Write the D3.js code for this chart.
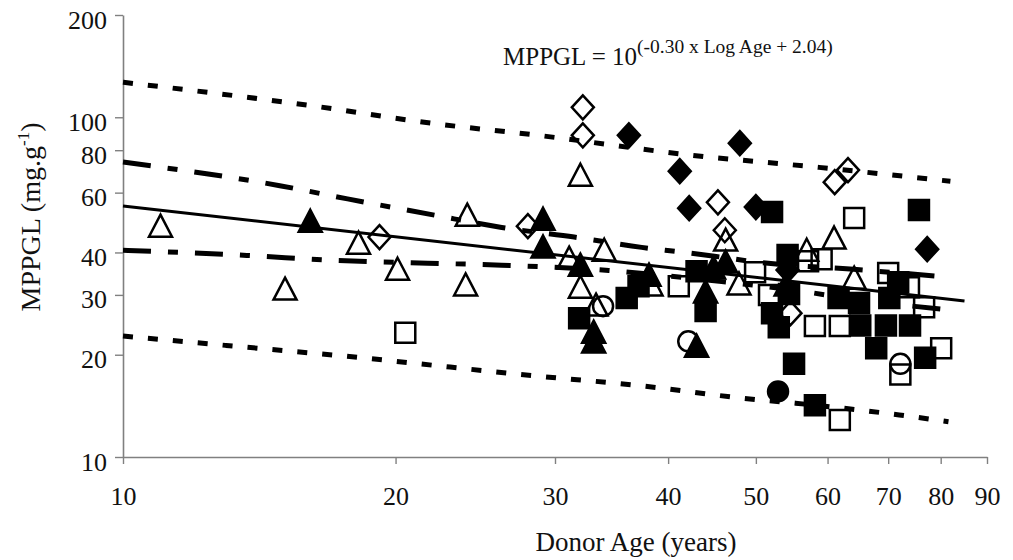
<!DOCTYPE html>
<html>
<head>
<meta charset="utf-8">
<script src="https://cdn.jsdelivr.net/npm/d3@7"></script>
<style>
  body { margin: 0; background: #fff; }
  svg text { font-family: "Liberation Serif", "Times New Roman", serif; fill: #111; }
</style>
</head>
<body>
<svg id="chart"></svg>
<script>
// [age, MPPGL] pairs
const openTriangles = [[11.0,47.8],[15.1,31.2],[18.2,42.6],[20.1,35.7],[24.0,51.5],[23.9,32.1],[32.0,67.5],[32.0,31.6],[31.1,38.5],[34.0,40.6],[47.9,32.3],[46.3,43.5],[56.9,40.6],[61.0,44.1],[64.2,33.6],[38.3,32.1],[33.3,28.0]]
const filledTriangles = [[16.1,49.4],[29.1,50.1],[29.1,41.5],[32.0,36.7],[33.1,23.3],[33.1,21.8],[43.0,21.2],[46.3,37.5],[44.9,36.0],[44.0,30.6],[38.1,34.3],[54.0,32.1]]
const openDiamonds = [[19.2,44.4],[28.0,47.8],[32.2,107.0],[32.2,88.5],[45.4,56.2],[46.2,46.5],[61.1,64.4],[63.2,69.9],[54.6,26.5]]
const filledDiamonds = [[36.2,88.5],[48.0,83.9],[41.2,69.4],[42.2,54.0],[50.0,54.4],[77.3,40.9],[54.2,35.5]]
const openSquares = [[20.5,23.2],[41.1,31.8],[49.9,35.0],[64.2,50.5],[59.1,38.2],[57.1,37.7],[58.1,24.3],[61.9,24.3],[70.0,34.8],[73.8,31.6],[80.1,20.9],[72.2,17.5],[61.9,12.85],[51.7,30.0],[76.7,27.6]]
const filledSquares = [[31.9,25.6],[36.0,29.4],[37.1,31.8],[43.0,35.2],[44.0,26.9],[52.1,52.6],[54.2,39.3],[54.4,30.2],[52.1,26.5],[53.0,24.1],[55.1,18.8],[58.1,14.2],[61.7,29.4],[65.0,28.4],[65.2,24.4],[67.9,20.9],[69.6,24.4],[71.8,32.7],[70.2,29.4],[74.0,24.4],[76.9,19.6],[75.7,53.3]]
const openCircles = [[33.9,27.8],[42.1,21.9],[72.2,18.8]]
const filledCircles = [[52.9,15.6]]

// fitted line and bands
const regression = [[10,54.8],[85,28.8]]
const upperConf = [[10,73.8],[14.9,62.9],[17.7,57.5],[22,51.6],[26.2,47.4],[31.5,44.4],[37.4,41.4],[41.4,40.1],[45,39.0],[50,37.5],[65.7,35.5],[82,33.8]]
const lowerConf = [[10,40.6],[13.7,39.2],[17.1,37.9],[21.7,37.2],[26.2,36.7],[34.4,35.4],[45,33.0],[55,31.0],[65,29.0],[82,27.1]]
const upperPred = [[10,126.8],[16,108.5],[22,95.9],[28.7,88.5],[42.5,77.3],[58.7,71.2],[82,64.8]]
const lowerPred = [[10,22.7],[13,21.3],[17.1,19.95],[28.7,17.3],[37.4,16.2],[48.3,14.9],[55.3,14.4],[72,13.3],[81.6,12.7]]

const xTicks = [10,20,30,40,50,60,70,80,90]
const yTicks = [10,20,30,40,60,80,100,200]

const width = 1013, height = 560
const svg = d3.select('#chart').attr('width', width).attr('height', height)

const x = d3.scaleLog().domain([10,90]).range([123,987])
const y = d3.scaleLog().domain([10,200]).range([457,15])

// axes
const xAxis = svg.append('g')
  .attr('transform', 'translate(0,457)')
  .call(d3.axisBottom(x).tickValues(xTicks).tickFormat(d3.format('d'))
    .tickSize(7).tickSizeOuter(0).tickPadding(23))
xAxis.selectAll('text').attr('font-size', 26).style('font-family', '"Liberation Serif", serif')

const yAxis = svg.append('g')
  .attr('transform', 'translate(123,0)')
  .call(d3.axisLeft(y).tickValues(yTicks).tickFormat(d3.format('d'))
    .tickSize(8).tickSizeOuter(0).tickPadding(8))
yAxis.selectAll('text').attr('font-size', 26).attr('dy', '0.5em').style('font-family', '"Liberation Serif", serif')

svg.selectAll('.domain').attr('stroke', '#808080').attr('stroke-width', 1.6)
svg.selectAll('.tick line').attr('stroke', '#808080').attr('stroke-width', 1.4)

// markers
const shapes = {
  triangle: 'M0,-11.5L11.5,10.5L-11.5,10.5Z',
  diamond: 'M0,-12L11,0L0,12L-11,0Z',
  square: 'M-10,-10H10V10H-10Z',
  circle: 'M10,0A10,10 0 1 1 -10,0A10,10 0 1 1 10,0Z'
}
const series = [
  { data: openTriangles, shape: 'triangle', filled: false },
  { data: openDiamonds, shape: 'diamond', filled: false },
  { data: openSquares, shape: 'square', filled: false },
  { data: openCircles, shape: 'circle', filled: false },
  { data: filledTriangles, shape: 'triangle', filled: true },
  { data: filledDiamonds, shape: 'diamond', filled: true },
  { data: filledSquares, shape: 'square', filled: true },
  { data: filledCircles, shape: 'circle', filled: true }
]
series.forEach(s => {
  svg.append('g').selectAll('path')
    .data(s.data)
    .enter()
    .append('path')
    .attr('transform', d => `translate(${x(d[0])},${y(d[1])})`)
    .attr('d', shapes[s.shape])
    .attr('fill', s.filled ? '#000' : 'none')
    .attr('stroke', '#000')
    .attr('stroke-width', 2.5)
    .attr('stroke-linejoin', 'miter')
})

// lines
const line = d3.line().x(d => x(d[0])).y(d => y(d[1])).curve(d3.curveMonotoneX)
const lines = [
  { data: upperPred, dash: '10,15', w: 5 },
  { data: lowerPred, dash: '10,15', w: 5 },
  { data: upperConf, dash: '28,17,10,17', w: 5 },
  { data: lowerConf, dash: '28,17,10,17', w: 5 },
  { data: regression, dash: null, w: 3 }
]
lines.forEach(l => {
  svg.append('path')
    .datum(l.data)
    .attr('d', line)
    .attr('fill', 'none')
    .attr('stroke', '#000')
    .attr('stroke-width', l.w)
    .attr('stroke-dasharray', l.dash)
})

// titles
svg.append('text')
  .attr('x', 636).attr('y', 551)
  .attr('text-anchor', 'middle')
  .attr('font-size', 27)
  .text('Donor Age (years)')

const yt = svg.append('text')
  .attr('transform', 'translate(40,217) rotate(-90)')
  .attr('text-anchor', 'middle')
  .attr('font-size', 28)
yt.append('tspan').text('MPPGL (mg.g')
yt.append('tspan').attr('font-size', 17).attr('dy', -11).text('-1')
yt.append('tspan').attr('dy', 11).text(')')

const eq = svg.append('text')
  .attr('x', 503).attr('y', 65)
  .attr('font-size', 25)
eq.append('tspan').text('MPPGL = 10')
eq.append('tspan').attr('font-size', 19.5).attr('dy', -12).text('(-0.30 x Log Age + 2.04)')
</script>
</body>
</html>
